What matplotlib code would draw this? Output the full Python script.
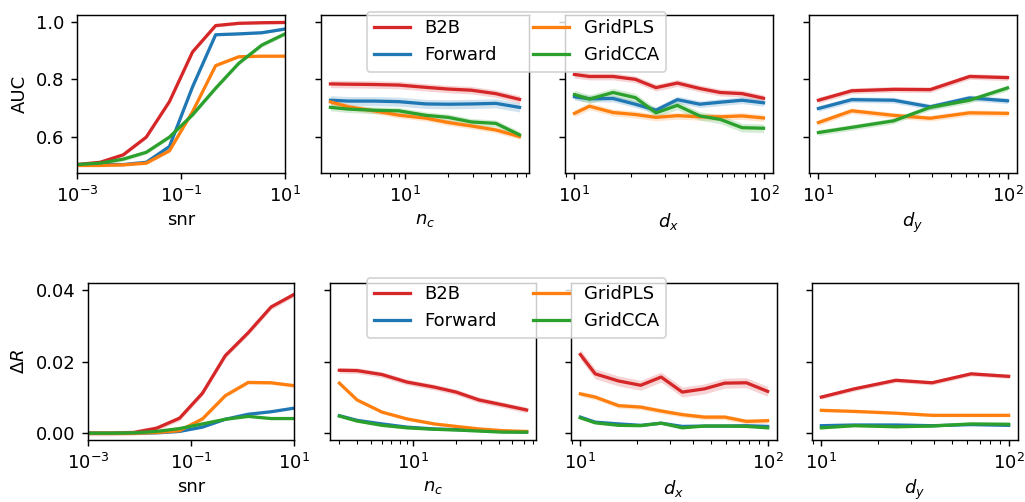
import matplotlib
matplotlib.use('Agg')
import matplotlib.pyplot as plt
import numpy as np

# x values for each sweep
snr = [0.001, 0.00278, 0.00774, 0.0215, 0.0599, 0.167, 0.464, 1.29, 3.59, 10.0]
n_c = [3, 4, 6, 9, 14, 20, 29, 43, 63]
d_x = [10, 12, 16, 21, 27, 35, 46, 59, 77, 100]
d_y = [10, 15, 25, 39, 63, 100]

methods = ['B2B', 'Forward', 'GridPLS', 'GridCCA']
colors = ['tab:red', 'tab:blue', 'tab:orange', 'tab:green']

# AUC (top row)
auc_snr = {
    'B2B':     [0.502, 0.510, 0.536, 0.598, 0.722, 0.896, 0.988, 0.996, 0.998, 0.999],
    'Forward': [0.502, 0.502, 0.502, 0.510, 0.565, 0.774, 0.956, 0.959, 0.963, 0.976],
    'GridPLS': [0.499, 0.499, 0.501, 0.507, 0.550, 0.687, 0.848, 0.879, 0.881, 0.881],
    'GridCCA': [0.502, 0.507, 0.521, 0.545, 0.598, 0.676, 0.769, 0.856, 0.920, 0.959],
}
auc_nc = {
    'B2B':     [0.784, 0.783, 0.782, 0.780, 0.772, 0.766, 0.762, 0.750, 0.730],
    'Forward': [0.727, 0.724, 0.724, 0.722, 0.714, 0.713, 0.714, 0.716, 0.702],
    'GridPLS': [0.721, 0.704, 0.690, 0.675, 0.664, 0.649, 0.637, 0.623, 0.600],
    'GridCCA': [0.702, 0.696, 0.692, 0.690, 0.674, 0.667, 0.651, 0.646, 0.606],
}
auc_dx = {
    'B2B':     [0.817, 0.810, 0.810, 0.800, 0.771, 0.787, 0.768, 0.754, 0.750, 0.734],
    'Forward': [0.739, 0.732, 0.733, 0.713, 0.692, 0.729, 0.713, 0.720, 0.727, 0.718],
    'GridPLS': [0.681, 0.706, 0.684, 0.677, 0.667, 0.673, 0.669, 0.669, 0.672, 0.665],
    'GridCCA': [0.747, 0.731, 0.754, 0.736, 0.683, 0.709, 0.672, 0.660, 0.631, 0.629],
}
auc_dy = {
    'B2B':     [0.727, 0.760, 0.765, 0.764, 0.810, 0.806],
    'Forward': [0.698, 0.729, 0.727, 0.704, 0.735, 0.725],
    'GridPLS': [0.649, 0.690, 0.674, 0.664, 0.683, 0.681],
    'GridCCA': [0.614, 0.632, 0.655, 0.702, 0.727, 0.770],
}

# Delta R (bottom row)
dr_snr = {
    'B2B':     [0.0, 0.0, 0.0002, 0.0014, 0.0042, 0.0112, 0.0217, 0.0281, 0.0353, 0.0388],
    'Forward': [0.0, 0.0, 0.0, 0.0001, 0.0005, 0.0017, 0.0039, 0.0053, 0.0060, 0.0070],
    'GridPLS': [0.0, 0.0, 0.0, 0.0002, 0.0007, 0.0040, 0.0105, 0.0142, 0.0141, 0.0133],
    'GridCCA': [0.0, 0.0, 0.0001, 0.0005, 0.0013, 0.0026, 0.0039, 0.0047, 0.0041, 0.0041],
}
dr_nc = {
    'B2B':     [0.0176, 0.0175, 0.0164, 0.0143, 0.0129, 0.0115, 0.0093, 0.0079, 0.0065],
    'Forward': [0.0049, 0.0036, 0.0026, 0.0017, 0.0012, 0.0010, 0.0008, 0.0005, 0.0003],
    'GridPLS': [0.0140, 0.0093, 0.0059, 0.0040, 0.0026, 0.0019, 0.0012, 0.0007, 0.0005],
    'GridCCA': [0.0048, 0.0034, 0.0022, 0.0015, 0.0011, 0.0009, 0.0006, 0.0003, 0.0003],
}
dr_dx = {
    'B2B':     [0.0220, 0.0166, 0.0146, 0.0134, 0.0157, 0.0115, 0.0124, 0.0140, 0.0141, 0.0117],
    'Forward': [0.0045, 0.0031, 0.0026, 0.0022, 0.0028, 0.0019, 0.0020, 0.0020, 0.0021, 0.0019],
    'GridPLS': [0.0110, 0.0101, 0.0077, 0.0073, 0.0062, 0.0052, 0.0045, 0.0045, 0.0033, 0.0035],
    'GridCCA': [0.0043, 0.0029, 0.0022, 0.0021, 0.0028, 0.0015, 0.0020, 0.0020, 0.0019, 0.0015],
}
dr_dy = {
    'B2B':     [0.0101, 0.0124, 0.0148, 0.0141, 0.0166, 0.0159],
    'Forward': [0.0021, 0.0023, 0.0023, 0.0021, 0.0024, 0.0022],
    'GridPLS': [0.0064, 0.0061, 0.0056, 0.0050, 0.0050, 0.0050],
    'GridCCA': [0.0015, 0.0021, 0.0018, 0.0020, 0.0026, 0.0025],
}

# half width of the shaded bands (B2B, Forward, GridPLS, GridCCA)
auc_snr_err = [0.005, 0.004, 0.005, 0.007]
auc_nc_err = [0.013, 0.016, 0.010, 0.012]
auc_dx_err = [0.012, 0.012, 0.012, 0.015]
auc_dy_err = [0.010, 0.010, 0.010, 0.010]
dr_snr_err = [0.0007, 0.0002, 0.0005, 0.0003]
dr_nc_err = [0.0008, 0.0002, 0.0004, 0.0003]
dr_dx_err = [0.0014, 0.0002, 0.0007, 0.0002]
dr_dy_err = [0.0006, 0.0002, 0.0004, 0.0003]

xs = [snr, n_c, d_x, d_y]
xlabels = ['snr', '$n_c$', '$d_x$', '$d_y$']
rows = [
    ([auc_snr, auc_nc, auc_dx, auc_dy], [auc_snr_err, auc_nc_err, auc_dx_err, auc_dy_err], 'AUC'),
    ([dr_snr, dr_nc, dr_dx, dr_dy], [dr_snr_err, dr_nc_err, dr_dx_err, dr_dy_err], r'$\Delta R$'),
]

W, H = 1025, 502
fig = plt.figure(figsize=(W / 130, H / 130), dpi=130)

# axes boxes in pixels (left, top, width, height)
row_lefts = [[77, 321, 565, 809], [88, 330, 571, 812]]
row_top = [15, 283]
row_w = [208, 206]
row_h = [158, 157]
row_ylim = [(0.4725, 1.025), (-0.0019, 0.042)]
row_yticks = [[0.6, 0.8, 1.0], [0.0, 0.02, 0.04]]
row_ytl = [['0.6', '0.8', '1.0'], ['0.00', '0.02', '0.04']]
legend_top = [3, 269]

for r, (datas, errs, ylab) in enumerate(rows):
    first = None
    for c in range(4):
        rect = [row_lefts[r][c] / W, 1 - (row_top[r] + row_h[r]) / H, row_w[r] / W, row_h[r] / H]
        ax = fig.add_axes(rect, sharey=first)
        if first is None:
            first = ax
        x = np.array(xs[c], dtype=float)
        for k, m in enumerate(methods):
            y = np.array(datas[c][m])
            e = errs[c][k]
            ax.fill_between(x, y - e, y + e, color=colors[k], alpha=0.2, linewidth=0)
            ax.plot(x, y, color=colors[k], label=m, linewidth=1.8)
        ax.set_xscale('log')
        if c == 0:
            ax.set_xlim(1e-3, 1e1)
            ax.set_xticks([1e-3, 1e-1, 1e1])
            ax.xaxis.set_minor_locator(matplotlib.ticker.NullLocator())
            ax.set_ylabel(ylab)
            ax.set_yticks(row_yticks[r])
            ax.set_yticklabels(row_ytl[r])
        else:
            ax.tick_params(labelleft=False)
        ax.set_ylim(row_ylim[r])
        ax.set_xlabel(xlabels[c], labelpad=3)
    handles, labels = ax.get_legend_handles_labels()
    fig.legend(handles, labels, ncol=2, loc='upper center',
               bbox_to_anchor=(516.5 / W, 1 - legend_top[r] / H))

plt.savefig('out.png', dpi=130)
